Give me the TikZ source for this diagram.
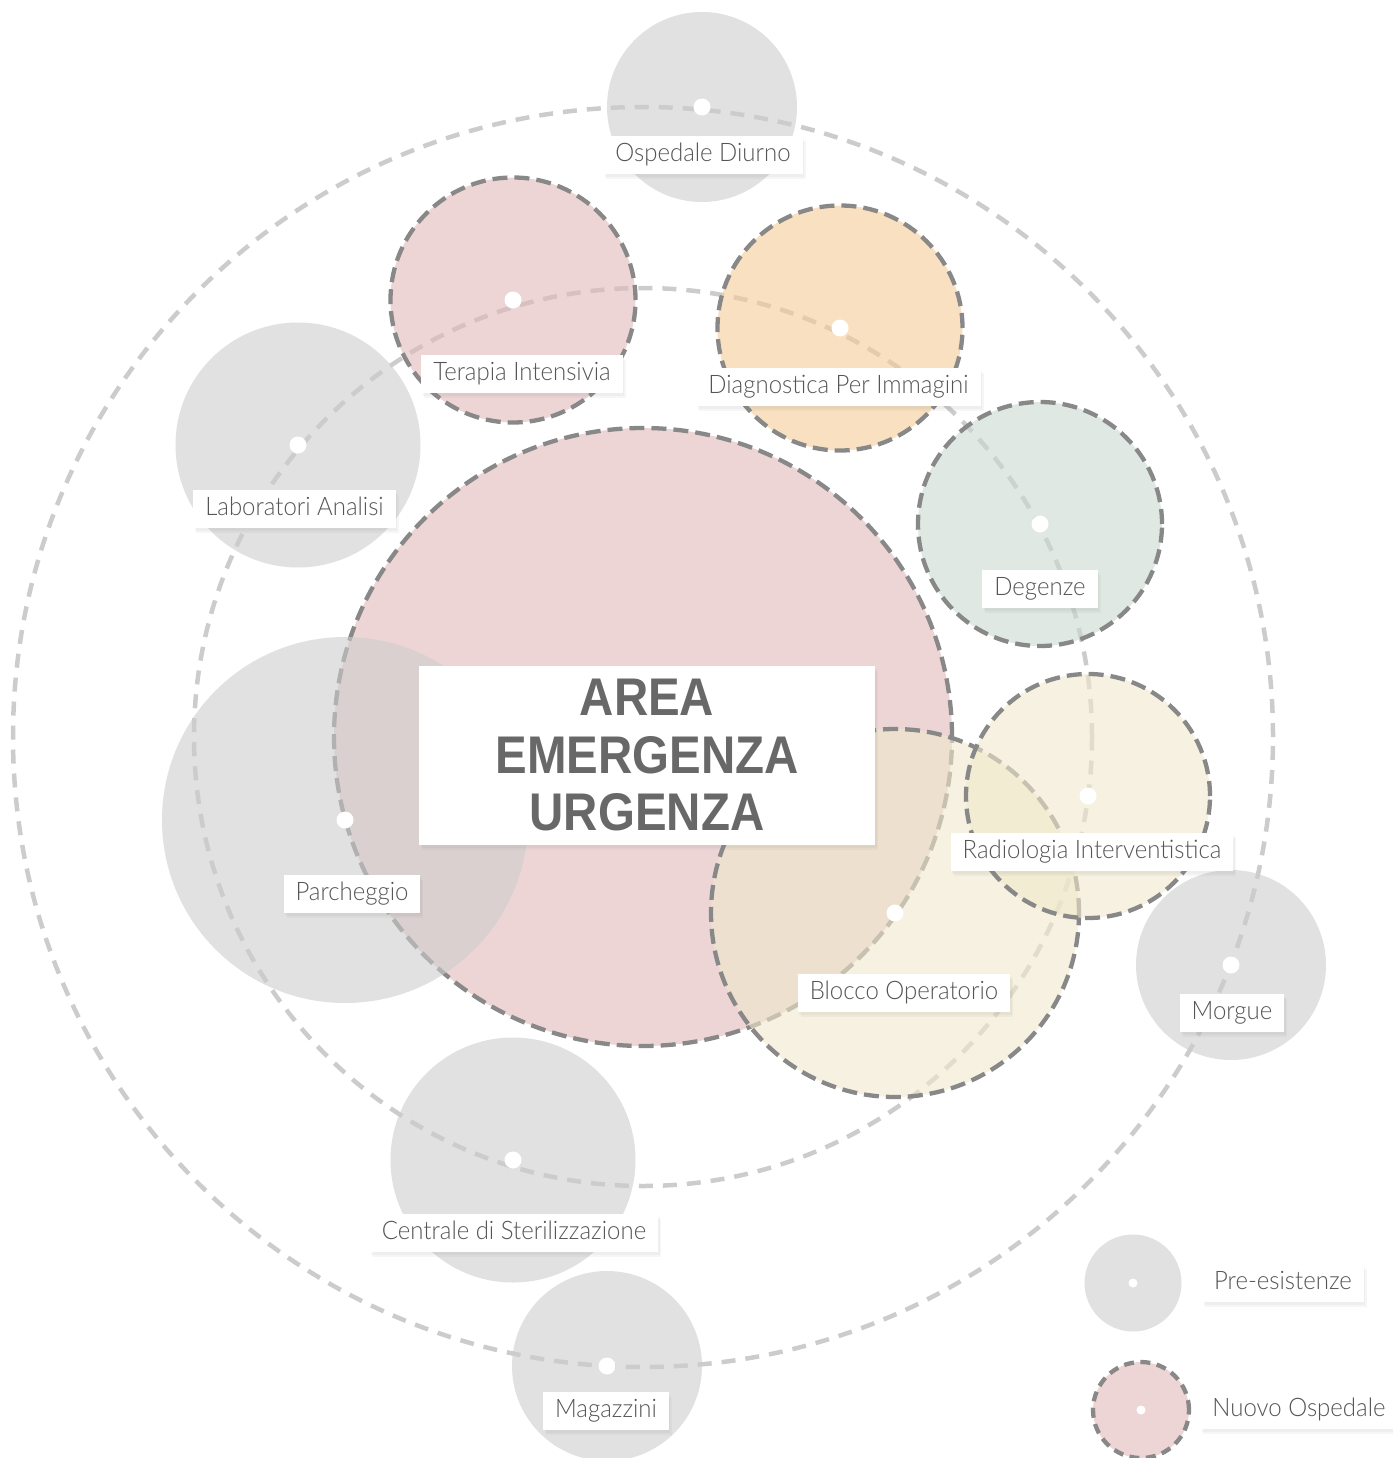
\documentclass[tikz,border=0pt]{standalone}
\usepackage{fontspec}
\newfontfamily\lblfont{Lato Light}[FakeStretch=0.94]
\newfontfamily\areafont{Liberation Sans}[FakeStretch=0.895]
\usetikzlibrary{shadows}
\definecolor{cgray}{RGB}{207,205,205}
\definecolor{cpink}{RGB}{225,185,187}
\definecolor{corange}{RGB}{243,203,150}
\definecolor{cgreen}{RGB}{202,217,208}
\definecolor{cyellow}{RGB}{240,232,203}
\definecolor{orbitc}{RGB}{204,204,204}
\definecolor{borderc}{RGB}{136,136,136}
\definecolor{lblc}{RGB}{85,85,85}
\definecolor{areac}{RGB}{104,104,104}
\begin{document}
\begin{tikzpicture}[x=1pt,y=-1pt,
  orbit/.style={circle, draw=orbitc, line width=4.5pt, dash pattern=on 14pt off 10pt, inner sep=0pt},
  pre/.style={circle, fill=cgray, fill opacity=0.6, inner sep=0pt},
  nuovo/.style={circle, fill opacity=0.6, draw=borderc, draw opacity=1, line width=4.3pt, dash pattern=on 15pt off 7pt, inner sep=0pt},
  dot/.style={circle, fill=white, inner sep=0pt, minimum size=17pt},
  smalldot/.style={circle, fill=white, inner sep=0pt, minimum size=9pt},
  boxshadow/.style={drop shadow={shadow xshift=3pt, shadow yshift=-5pt, opacity=0.07}, drop shadow={shadow xshift=1.5pt, shadow yshift=-2.5pt, opacity=0.07}},
  lbl/.style={boxshadow, fill=white, font=\lblfont\fontsize{25.5}{30}\selectfont, text=lblc, inner xsep=12pt, inner ysep=0pt, minimum height=38pt, text height=18.5pt, text depth=5.5pt},
]
\useasboundingbox (0,0) rectangle (1392,1458);
% orbits
\node[orbit, minimum size=1260pt] (outer) at (643,737) {};
\node[orbit, minimum size=898pt] (inner) at (643,737) {};
% circles
\node[nuovo, fill=cpink, minimum size=618pt] (area) at (643,737) {};
\node[pre, minimum size=366pt] (parch) at (345,820) {};
\node[nuovo, fill=cyellow, minimum size=368pt] (blocco) at (895,913) {};
\node[nuovo, fill=cyellow, minimum size=244pt] (radio) at (1088,796) {};
\node[pre, minimum size=190pt] (diurno) at (702,107) {};
\node[nuovo, fill=cpink, minimum size=245pt] (terapia) at (513,300) {};
\node[nuovo, fill=corange, minimum size=245pt] (diagn) at (840,328) {};
\node[pre, minimum size=245pt] (labor) at (298,445) {};
\node[nuovo, fill=cgreen, minimum size=244pt] (degenze) at (1040,524) {};
\node[pre, minimum size=190pt] (morgue) at (1231,965) {};
\node[pre, minimum size=245pt] (centrale) at (513,1160) {};
\node[pre, minimum size=190pt] (magaz) at (607,1366) {};
% legend circles
\node[pre, minimum size=97pt] (legpre) at (1133,1283) {};
\node[nuovo, fill=cpink, minimum size=96pt, dash pattern=on 10pt off 6.5pt] (legnuovo) at (1141,1410) {};
% dots
\foreach \n in {parch,blocco,radio,diurno,terapia,diagn,labor,degenze,morgue,centrale,magaz}
  \node[dot] (\n dot) at (\n.center) {};
\node[smalldot] (legpredot) at (legpre.center) {};
\node[smalldot] (legnuovodot) at (legnuovo.center) {};
% labels
\node[lbl] (diurnolbl) at (703,155.5) {Ospedale Diurno};
\node[lbl] (terapialbl) at (522,374) {Terapia Intensivia};
\node[lbl] (diagnlbl) at (838.5,387) {Diagnostica Per Immagini};
\node[lbl] (laborlbl) at (294.5,509) {Laboratori Analisi};
\node[lbl] (degenzelbl) at (1040,589) {Degenze};
\node[lbl] (parchlbl) at (352,894) {Parcheggio};
\node[lbl] (radiolbl) at (1092,852) {Radiologia Interventistica};
\node[lbl] (bloccolbl) at (904,993) {Blocco Operatorio};
\node[lbl] (morguelbl) at (1232,1013) {Morgue};
\node[lbl] (centralelbl) at (514,1233) {Centrale di Sterilizzazione};
\node[lbl] (magazlbl) at (606,1411) {Magazzini};
\node[lbl] (legprelbl) at (1283,1283) {Pre-esistenze};
\node[lbl] (legnuovolbl) at (1299,1410) {Nuovo Ospedale};
% main label
\node[boxshadow, fill=white, minimum width=456pt, minimum height=179pt, align=center,
  font=\areafont\bfseries\fontsize{53}{57.5}\selectfont, text=areac] (arealbl) at (647,755.5)
  {AREA\\EMERGENZA\\URGENZA};
\end{tikzpicture}
\end{document}
